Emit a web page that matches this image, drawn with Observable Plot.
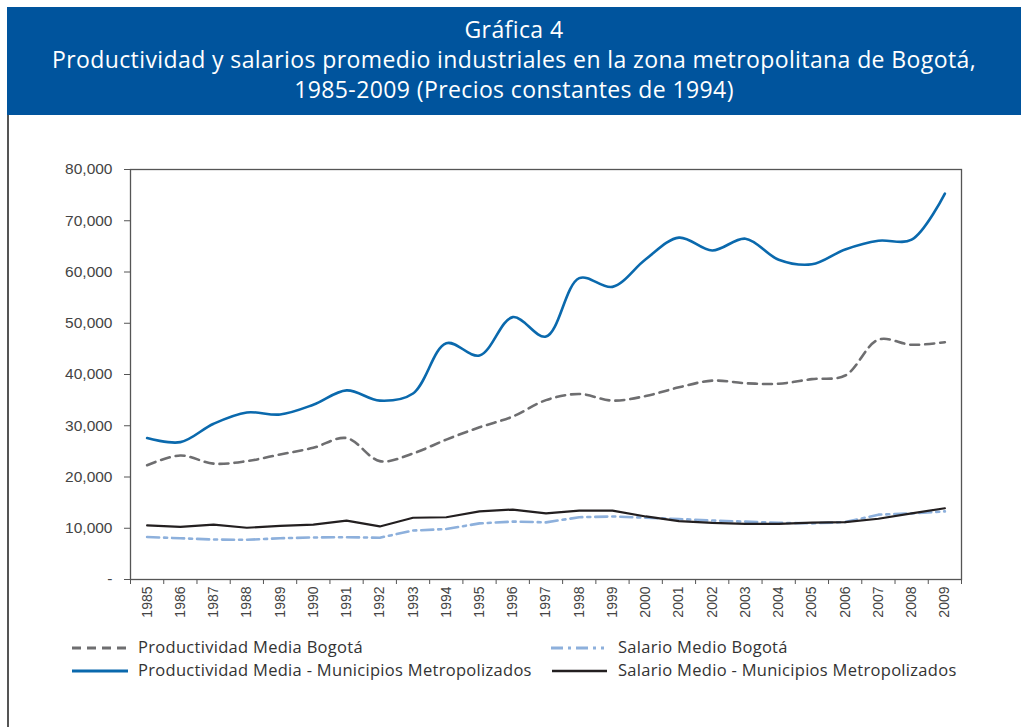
<!DOCTYPE html>
<html>
<head>
<meta charset="utf-8">
<script src="https://cdn.jsdelivr.net/npm/d3@7"></script>
<script src="https://cdn.jsdelivr.net/npm/@observablehq/plot@0.6"></script>
<style>
  html, body { margin: 0; padding: 0; background: #fff; }
  body { width: 1021px; height: 727px; position: relative; overflow: hidden; }
  #header {
    position: absolute; left: 7px; top: 7px; width: 1014px; height: 108px;
    background: #00549d; color: #fff; text-align: center;
    font-family: "Open Sans", sans-serif; font-size: 23px; letter-spacing: 0.4px; line-height: 30px;
    box-sizing: border-box; padding-top: 7px;
  }
  #border { position: absolute; left: 7px; top: 115px; width: 1.5px; height: 612px; background: #555; }
  #chart { position: absolute; left: 0; top: 115px; }
  .leg { position: absolute; font-family: "Open Sans", sans-serif; font-size: 16.5px; letter-spacing: 0.3px; color: #333; white-space: nowrap; line-height: 20px; }
  .sw { position: absolute; }
</style>
</head>
<body>
<div id="header">Gráfica 4<br>Productividad y salarios promedio industriales en la zona metropolitana de Bogotá,<br>1985-2009 (Precios constantes de 1994)</div>
<div id="border"></div>
<div id="chart"></div>
<div id="legend"></div>
<script>
const years = [1985,1986,1987,1988,1989,1990,1991,1992,1993,1994,1995,1996,1997,1998,1999,2000,2001,2002,2003,2004,2005,2006,2007,2008,2009];
const prodBogota = [22300,24200,22600,23100,24400,25700,27600,23100,24600,27300,29700,31800,35000,36200,34900,35800,37500,38800,38300,38200,39100,39800,46800,45800,46300];
const prodMunicipios = [27600,26800,30400,32600,32200,34100,36900,34900,36300,46100,43700,51200,47400,58800,57100,62500,66700,64200,66500,62400,61500,64400,66100,66300,75300];
const salBogota = [8300,8050,7800,7750,8050,8200,8250,8150,9550,9850,10950,11300,11150,12150,12300,12050,11800,11500,11300,11050,10950,11200,12650,12900,13300];
const salMunicipios = [10550,10250,10700,10100,10450,10700,11500,10350,12050,12150,13300,13650,12900,13450,13450,12300,11400,11050,10850,10850,11100,11200,11850,12900,13900];
const seriesNames = ["Productividad Media Bogotá","Salario Medio Bogotá","Productividad Media - Municipios Metropolizados","Salario Medio - Municipios Metropolizados"];
const yTicks = [0,10000,20000,30000,40000,50000,60000,70000,80000];

const toRows = (vals) => years.map((y, i) => ({year: y, value: vals[i]}));
const edges = years.map(y => y - 0.5).concat([years[years.length - 1] + 0.5]);

const styles = [
  {name: seriesNames[0], vals: prodBogota, stroke: "#6e6e70", width: 2.6, dash: "9,6", curve: "catmull-rom"},
  {name: seriesNames[1], vals: salBogota, stroke: "#8db0dc", width: 2.6, dash: "12,5,3,5", curve: "linear"},
  {name: seriesNames[2], vals: prodMunicipios, stroke: "#0a69ad", width: 2.6, dash: null, curve: "catmull-rom"},
  {name: seriesNames[3], vals: salMunicipios, stroke: "#231f20", width: 2.2, dash: null, curve: "linear"}
];

const lineMarks = [styles[1], styles[3], styles[0], styles[2]].map(s =>
  Plot.line(toRows(s.vals), {x: "year", y: "value", stroke: s.stroke, strokeWidth: s.width, strokeDasharray: s.dash, curve: s.curve})
);

const chart = Plot.plot({
  width: 1021, height: 520,
  marginTop: 54, marginBottom: 56, marginLeft: 130, marginRight: 60,
  x: {type: "linear", domain: [1984.5, 2009.5]},
  y: {domain: [0, 80000]},
  style: {fontFamily: "Liberation Sans, Arial, sans-serif", fontSize: "14px", color: "#444", background: "transparent", overflow: "visible"},
  marks: [
    Plot.axisY({ticks: yTicks, tickFormat: d => d === 0 ? "-" : d3.format(",")(d), tickSize: 6, tickPadding: 12, label: null, stroke: "#555", fill: "#444", fontSize: 15.5}),
    Plot.axisX({ticks: years, tickSize: 0, tickPadding: 7, tickRotate: -90, tickFormat: d => String(d), label: null, fill: "#444"}),
    Plot.axisX({ticks: edges, tickSize: 5, tickFormat: () => "", label: null, stroke: "#555"}),
    ...lineMarks,
    Plot.frame({stroke: "#555", strokeWidth: 1.3})
  ]
});
document.getElementById("chart").appendChild(chart);

// Legend
const legend = document.getElementById("legend");
const items = [
  {s: styles[0], sx: 72, sw: 56, y: 648, tx: 138},
  {s: styles[2], sx: 72, sw: 56, y: 671, tx: 138},
  {s: styles[1], sx: 551, sw: 53, y: 648, tx: 618},
  {s: styles[3], sx: 552, sw: 55, y: 671, tx: 618}
];
for (const it of items) {
  const svg = d3.create("svg").attr("class", "sw").attr("width", it.sw).attr("height", 8)
    .style("left", it.sx + "px").style("top", (it.y - 4) + "px");
  svg.append("line").attr("x1", 0).attr("x2", it.sw).attr("y1", 4).attr("y2", 4)
    .attr("stroke", it.s.stroke).attr("stroke-width", it.s.width + 0.3)
    .attr("stroke-dasharray", it.s.dash);
  legend.appendChild(svg.node());
  const t = document.createElement("div");
  t.className = "leg";
  t.style.left = it.tx + "px";
  t.style.top = (it.y - 11) + "px";
  t.textContent = it.s.name;
  legend.appendChild(t);
}
</script>
</body>
</html>
